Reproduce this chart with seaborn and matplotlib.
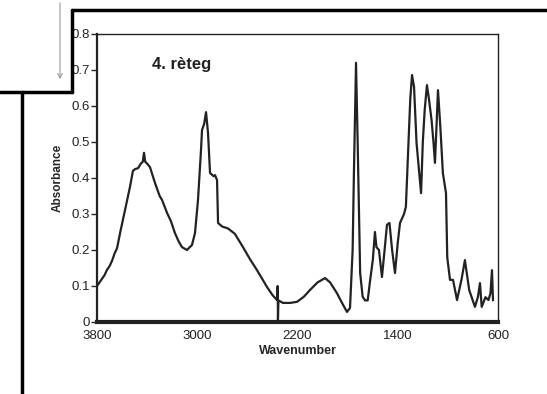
import numpy as np
import pandas as pd
import matplotlib
matplotlib.use("Agg")
import matplotlib.pyplot as plt
from matplotlib.lines import Line2D
import seaborn as sns

# values
wavenumber = [3800, 3780, 3760, 3740, 3720, 3700, 3680, 3660, 3640, 3616, 3577, 3537, 3513,
              3495, 3473, 3450, 3435, 3425, 3415, 3400, 3377, 3337, 3300, 3281, 3241, 3210,
              3178, 3150, 3122, 3082, 3042, 3018, 2994, 2970, 2962, 2945, 2930, 2914, 2898,
              2870, 2858, 2842, 2834, 2800, 2755, 2700, 2635, 2580, 2523, 2443, 2400, 2364,
              2358, 2356, 2352, 2316, 2260, 2204, 2150, 2100, 2040, 1980, 1940, 1885, 1840,
              1805, 1781, 1760, 1750, 1733, 1720, 1700, 1680, 1661, 1640, 1620, 1599, 1582,
              1570, 1550, 1526, 1505, 1486, 1466, 1445, 1422, 1400, 1382, 1350, 1335, 1320,
              1300, 1286, 1270, 1250, 1214, 1200, 1185, 1167, 1150, 1130, 1115, 1103, 1090,
              1079, 1060, 1040, 1015, 1005, 983, 959, 927, 890, 864, 830, 784, 760, 744, 730,
              700, 676, 660, 648, 640]
absorbance = [0.100, 0.110, 0.120, 0.130, 0.145, 0.155, 0.170, 0.190, 0.205, 0.247, 0.310,
              0.375, 0.420, 0.425, 0.427, 0.440, 0.445, 0.470, 0.445, 0.440, 0.430, 0.386,
              0.350, 0.339, 0.303, 0.280, 0.247, 0.225, 0.208, 0.200, 0.214, 0.247, 0.339,
              0.478, 0.533, 0.550, 0.583, 0.525, 0.414, 0.405, 0.408, 0.394, 0.275, 0.265,
              0.260, 0.245, 0.208, 0.175, 0.144, 0.097, 0.075, 0.061, 0.100, 0.005, 0.060,
              0.053, 0.053, 0.056, 0.070, 0.089, 0.110, 0.122, 0.110, 0.080, 0.050, 0.028,
              0.039, 0.200, 0.410, 0.720, 0.500, 0.136, 0.070, 0.060, 0.060, 0.117, 0.172,
              0.250, 0.208, 0.200, 0.125, 0.200, 0.270, 0.275, 0.200, 0.136, 0.220, 0.275,
              0.300, 0.320, 0.450, 0.620, 0.686, 0.653, 0.497, 0.358, 0.500, 0.589, 0.658,
              0.617, 0.560, 0.500, 0.442, 0.550, 0.644, 0.542, 0.414, 0.358, 0.180, 0.117,
              0.117, 0.061, 0.120, 0.172, 0.089, 0.042, 0.070, 0.108, 0.042, 0.069, 0.061,
              0.080, 0.144, 0.060]

x_ticks = [3800, 3000, 2200, 1400, 600]
y_ticks = [0, 0.1, 0.2, 0.3, 0.4, 0.5, 0.6, 0.7, 0.8]
y_tick_labels = ["0", "0.1", "0.2", "0.3", "0.4", "0.5", "0.6", "0.7", "0.8"]

df = pd.DataFrame({"wn": wavenumber, "abs": absorbance})

sns.set_style("white")
plt.rcParams["font.family"] = ["Liberation Sans", "DejaVu Sans"]

fig = plt.figure(figsize=(5.47, 3.94), dpi=100)
ax = fig.add_axes([97 / 547, 72 / 394, 401 / 547, 288 / 394])

sns.lineplot(data=df, x="wn", y="abs", ax=ax, sort=False, estimator=None,
             color="#222222", linewidth=1.6)

ax.set_xlim(3800, 600)
ax.set_ylim(0, 0.8)
ax.set_xticks(x_ticks)
ax.set_xticklabels([str(t) for t in x_ticks], fontsize=9.5, color="#222222")
ax.set_yticks(y_ticks)
ax.set_yticklabels(y_tick_labels, fontsize=9.5, color="#222222")
ax.tick_params(axis="x", length=0, pad=6)
ax.tick_params(axis="y", direction="out", length=4, width=1, pad=1, left=True)

ax.set_xlabel("Wavenumber", fontsize=9, fontweight="bold", labelpad=2)
ax.set_ylabel("Absorbance", fontsize=8.5, fontweight="bold", labelpad=6)

for side, lw in [("left", 1.6), ("bottom", 3.0), ("top", 1.0), ("right", 1.0)]:
    ax.spines[side].set_visible(True)
    ax.spines[side].set_linewidth(lw)
    ax.spines[side].set_color("#222222")

ax.text(0.138, 0.88, "4. rèteg", transform=ax.transAxes, fontsize=12,
        fontweight="bold", color="#222222")

# scanned page frame lines around the figure
def px_line(xs, ys, lw, color="black"):
    fig.add_artist(Line2D([x / 547 for x in xs], [1 - y / 394 for y in ys],
                          transform=fig.transFigure, linewidth=lw, color=color))

px_line([72, 547], [10, 10], 2.5)
px_line([72, 72], [10, 92], 2.5)
px_line([0, 72], [92, 92], 2.5)
px_line([22, 22], [92, 394], 2.5)
fig.add_artist(plt.matplotlib.patches.FancyArrowPatch(
    (60 / 547, 1.0), (60 / 547, 1 - 82 / 394), transform=fig.transFigure,
    arrowstyle="->", mutation_scale=8, color="#999999", linewidth=0.8))

fig.savefig("out.png", dpi=100)
